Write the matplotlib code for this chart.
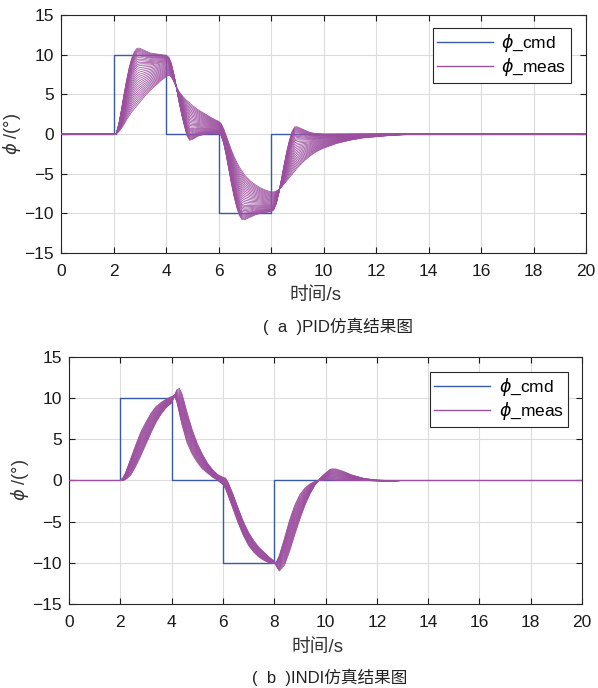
import numpy as np
import matplotlib
matplotlib.use("Agg")
import matplotlib.pyplot as plt
from matplotlib.lines import Line2D

plt.rcParams['font.family'] = ['Liberation Sans', 'Noto Sans CJK SC', 'DejaVu Sans']
plt.rcParams['mathtext.fontset'] = 'dejavusans'

# ---------------- data ----------------

# command steps (deg)
cmdT = [0, 2, 2, 4, 4, 6, 6, 8, 8, 20]
cmdV = [0, 0, 10, 10, 0, 0, -10, -10, 0, 0]

# PID: fastest and slowest responses on a shared time base
pidT = [0, 2.0, 2.1, 2.2, 2.3, 2.4, 2.5, 2.6, 2.7, 2.8, 2.9, 3.0, 3.2, 3.4, 3.6,
        3.8, 4.0, 4.1, 4.2, 4.3, 4.4, 4.5, 4.6, 4.7, 4.8, 4.9, 5.0, 5.2, 5.4,
        5.6, 5.8, 6.0, 6.1, 6.2, 6.3, 6.4, 6.5, 6.6, 6.7, 6.8, 6.9, 7.0, 7.2,
        7.4, 7.6, 7.8, 8.0, 8.1, 8.2, 8.3, 8.4, 8.5, 8.6, 8.7, 8.8, 8.9, 9.0,
        9.2, 9.4, 9.6, 9.8, 10.0, 10.5, 11.0, 11.5, 12.0, 12.5, 13.0, 13.5,
        14.0, 20.0]
pidFast = [0, 0, 0, 1.2, 3.0, 5.0, 6.8, 8.4, 9.6, 10.4, 10.8, 10.8, 10.5, 10.2,
           10.1, 10.0, 9.9, 9.7, 8.9, 7.5, 5.8, 4.0, 2.4, 1.0, -0.2, -0.8, -0.7,
           -0.3, -0.1, 0.0, 0.0, 0.0, -0.2, -1.2, -2.8, -4.6, -6.4, -8.0, -9.3,
           -10.3, -10.8, -10.8, -10.5, -10.2, -10.0, -9.9, -9.8, -9.6, -8.8,
           -7.4, -5.7, -3.9, -2.2, -0.8, 0.3, 0.9, 0.9, 0.6, 0.3, 0.1, 0.05,
           0, 0, 0, 0, 0, 0, 0, 0, 0, 0]
pidSlow = [0, 0, 0, 0.3, 0.7, 1.2, 1.8, 2.3, 2.8, 3.2, 3.6, 4.0, 4.8, 5.5, 6.1,
           6.7, 7.2, 7.4, 7.2, 6.6, 5.9, 5.3, 4.9, 4.5, 4.2, 3.9, 3.6, 3.1, 2.7,
           2.3, 1.9, 1.6, 1.3, 0.6, -0.3, -1.2, -2.1, -2.9, -3.6, -4.2, -4.7,
           -5.2, -5.9, -6.4, -6.8, -7.1, -7.3, -7.3, -7.2, -7.0, -6.7, -6.3,
           -5.9, -5.5, -5.1, -4.7, -4.3, -3.6, -3.0, -2.5, -2.1, -1.8, -1.2,
           -0.8, -0.5, -0.35, -0.2, -0.1, -0.05, 0, 0]

# INDI: leading and lagging responses on a shared time base
indiT = [0, 2.0, 2.1, 2.2, 2.4, 2.6, 2.8, 3.0, 3.2, 3.4, 3.6, 3.8, 4.0, 4.1,
         4.2, 4.3, 4.4, 4.6, 4.8, 5.0, 5.2, 5.4, 5.6, 5.8, 6.0, 6.1, 6.2, 6.4,
         6.6, 6.8, 7.0, 7.2, 7.4, 7.6, 7.8, 8.0, 8.1, 8.2, 8.4, 8.6, 8.8, 9.0,
         9.2, 9.4, 9.6, 9.8, 10.0, 10.2, 10.4, 10.7, 11.0, 11.5, 12.0, 12.5,
         13.0, 20.0]
indiLead = [0, 0, 0.3, 0.9, 2.6, 4.3, 5.9, 7.1, 8.2, 9.0, 9.5, 9.9, 10.2, 10.3,
            9.6, 8.2, 6.8, 4.6, 3.2, 2.2, 1.4, 0.9, 0.4, 0.0, -0.5, -1.0, -1.8,
            -3.5, -5.2, -6.7, -7.9, -8.7, -9.3, -9.7, -10.0, -10.1, -9.8, -9.1,
            -7.0, -4.8, -3.0, -1.7, -0.9, -0.4, -0.1, 0.0, 0.05, 0.05, 0, 0, 0,
            0, -0.05, -0.1, 0, 0]
indiLag = [0, 0, 0, 0.1, 0.6, 1.7, 3.0, 4.4, 5.8, 7.1, 8.1, 8.9, 9.4, 10.2,
           11.0, 11.2, 10.6, 8.3, 6.2, 4.5, 3.2, 2.1, 1.3, 0.7, 0.4, 0.3, -0.2,
           -1.7, -3.4, -5.0, -6.3, -7.3, -8.1, -8.7, -9.3, -9.8, -10.5, -11.0,
           -10.3, -8.6, -6.6, -4.7, -3.0, -1.6, -0.5, 0.3, 0.9, 1.4, 1.4, 1.1,
           0.7, 0.25, 0.05, 0, 0, 0]

# share of the slow/lagging curve in each run of the family
pidMix = [0, 0.02, 0.04, 0.06, 0.08, 0.10, 0.12, 0.14, 0.17, 0.20, 0.23, 0.26,
          0.29, 0.32, 0.36, 0.40, 0.44, 0.48, 0.52, 0.56, 0.60, 0.64, 0.68,
          0.72, 0.76, 0.80, 0.84, 0.88, 0.92, 0.96, 1.0]
indiMix = [0, 0.05, 0.1, 0.15, 0.2, 0.25, 0.3, 0.35, 0.4, 0.45, 0.5, 0.55,
           0.6, 0.65, 0.7, 0.75, 0.8, 0.85, 0.9, 0.95, 1.0]

legLabels = [r'$\phi$_cmd', r'$\phi$_meas']
captions = ['(  a  )PID仿真结果图', '(  b  )INDI仿真结果图']

cmdColor = '#3a5aa8'
measColor = '#9c4f9f'

########################################################################

def drawPanel(ax, tt, fast, slow, mix, legAnchor):

    fast = np.array(fast)
    slow = np.array(slow)
    ax.plot(cmdT, cmdV, color=cmdColor, lw=1.0, zorder=2)
    for ww in mix:
        yy = (1.0 - ww) * fast + ww * slow
        ax.plot(tt, yy, color=measColor, lw=0.55, zorder=3)

    ax.set_xlim(0, 20)
    ax.set_ylim(-15, 15)
    ax.set_xticks(range(0, 21, 2))
    ax.set_yticks(range(-15, 16, 5))
    ax.set_yticklabels(['\u221215', '\u221210', '\u22125', '0', '5', '10', '15'])
    ax.grid(True, color='#dcdcdc', lw=0.8)
    ax.set_axisbelow(True)
    ax.tick_params(direction='in', top=True, right=True, length=4,
                   labelsize=12.5, colors='#1a1a1a')
    ax.tick_params(axis='x', pad=8)
    ax.tick_params(axis='y', pad=5)
    for sp in ax.spines.values():
        sp.set_color('#262626')
        sp.set_linewidth(0.8)
    ax.set_xlabel('时间/s', fontsize=13.5, color='#333333')
    ax.xaxis.set_label_coords(0.484, -0.143)
    ax.xaxis.label.set_va('top')
    ax.set_ylabel(r'$\phi$ /(°)', fontsize=13, color='#333333', labelpad=1)

    handles = [Line2D([], [], color=cmdColor, lw=1.0),
               Line2D([], [], color=measColor, lw=1.0)]
    leg = ax.legend(handles, legLabels,
                    loc='upper right', bbox_to_anchor=legAnchor,
                    fontsize=12.5, frameon=True, fancybox=False,
                    framealpha=1.0, edgecolor='#262626', handlelength=3.2,
                    labelspacing=0.12, borderpad=0.25, handletextpad=0.5,
                    borderaxespad=0)
    leg.get_frame().set_linewidth(0.8)

########################################################################

fig = plt.figure(figsize=(5.98, 6.88), dpi=100)
ax1 = fig.add_axes([0.102, 0.6323, 0.878, 0.346])
ax2 = fig.add_axes([0.1154, 0.1221, 0.8579, 0.359])

drawPanel(ax1, pidT, pidFast, pidSlow, pidMix, (0.971, 0.945))
drawPanel(ax2, indiT, indiLead, indiLag, indiMix, (0.9727, 0.939))

fig.text(0.565, 1 - 326 / 688., captions[0], ha='center', va='center',
         fontsize=12, color='#222222')
fig.text(0.552, 1 - 677 / 688., captions[1], ha='center', va='center',
         fontsize=12, color='#222222')

fig.savefig('out.png', dpi=100)
